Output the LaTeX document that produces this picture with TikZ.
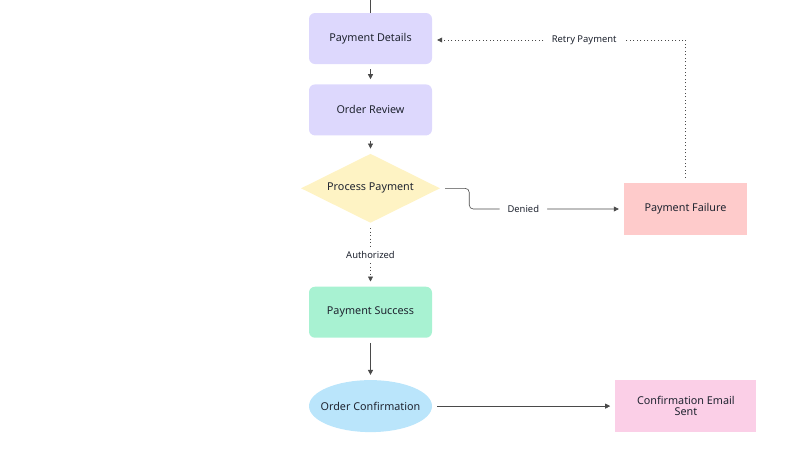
\documentclass[tikz,border=0pt]{standalone}
\usepackage{fontspec}
\setmainfont{Noto Sans}
\usetikzlibrary{positioning, arrows.meta, shapes.geometric, calc}
\definecolor{paylav}{HTML}{DDD8FD}
\definecolor{payyellow}{HTML}{FEF3C4}
\definecolor{payred}{HTML}{FECBCB}
\definecolor{paygreen}{HTML}{A8F2D2}
\definecolor{payblue}{HTML}{BAE5FB}
\definecolor{paypink}{HTML}{FBCFE7}
\definecolor{payline}{HTML}{4A4A4A}
\definecolor{paytext}{HTML}{1F2430}

\begin{document}
\begin{tikzpicture}[x=1pt, y=-1pt, font=\fontsize{10.8}{13}\selectfont, text=paytext,
  stepbox/.style={rounded corners=6pt, minimum width=123pt, minimum height=51pt, inner sep=2pt},
  endbox/.style={minimum width=123pt, minimum height=52pt, inner sep=2pt, align=center},
  flow/.style={draw=payline, semithick, -{Triangle[length=5pt, width=5pt]}, shorten <=5pt, shorten >=5pt},
  dotflow/.style={flow, dash pattern=on 0.9pt off 2.6pt},
  lbl/.style={fill=white, font=\fontsize{9.4}{11}\selectfont, inner xsep=8pt}]
\useasboundingbox (0,0) rectangle (792,467);
\node[stepbox, fill=paylav] (details) at (370.5,38.5) {Payment Details};
\node[stepbox, fill=paylav, below=20pt of details] (review) {Order Review};
\node[diamond, fill=payyellow, shape aspect=2, inner sep=1pt, minimum width=139pt, minimum height=69pt, below=18pt of review] (process) {Process Payment};
\node[stepbox, fill=paygreen, below=63.5pt of process] (success) {Payment Success};
\node[ellipse, fill=payblue, inner xsep=-14pt, minimum width=123pt, minimum height=52pt, below=42pt of success] (confirm) {Order Confirmation};
\node[endbox, fill=payred] (failure) at (685.5,209) {Payment Failure};
\node[endbox, fill=paypink, minimum width=141pt, right=183pt of confirm] (email) {Confirmation Email\\[-2pt]Sent};
\coordinate (entry) at (370.5,0);
\coordinate (retryin) at ($(details.east)+(0,1.5)$);

\draw[draw=payline, semithick] (entry) -- (details);
\draw[flow] (details) -- (review);
\draw[flow] (review) -- (process);
\draw[dotflow] (process) -- node[lbl, inner xsep=2pt] {Authorized} (success);
\draw[flow] (success) -- (confirm);
\draw[flow] (confirm) -- (email);
\draw[flow, rounded corners=4pt] (process.east) -- ++(29,0) |- node[lbl, pos=0.675] {Denied} (failure.west);
\draw[dotflow] (failure.north) |- node[lbl, pos=0.7] {Retry Payment} (retryin);
\end{tikzpicture}
\end{document}
